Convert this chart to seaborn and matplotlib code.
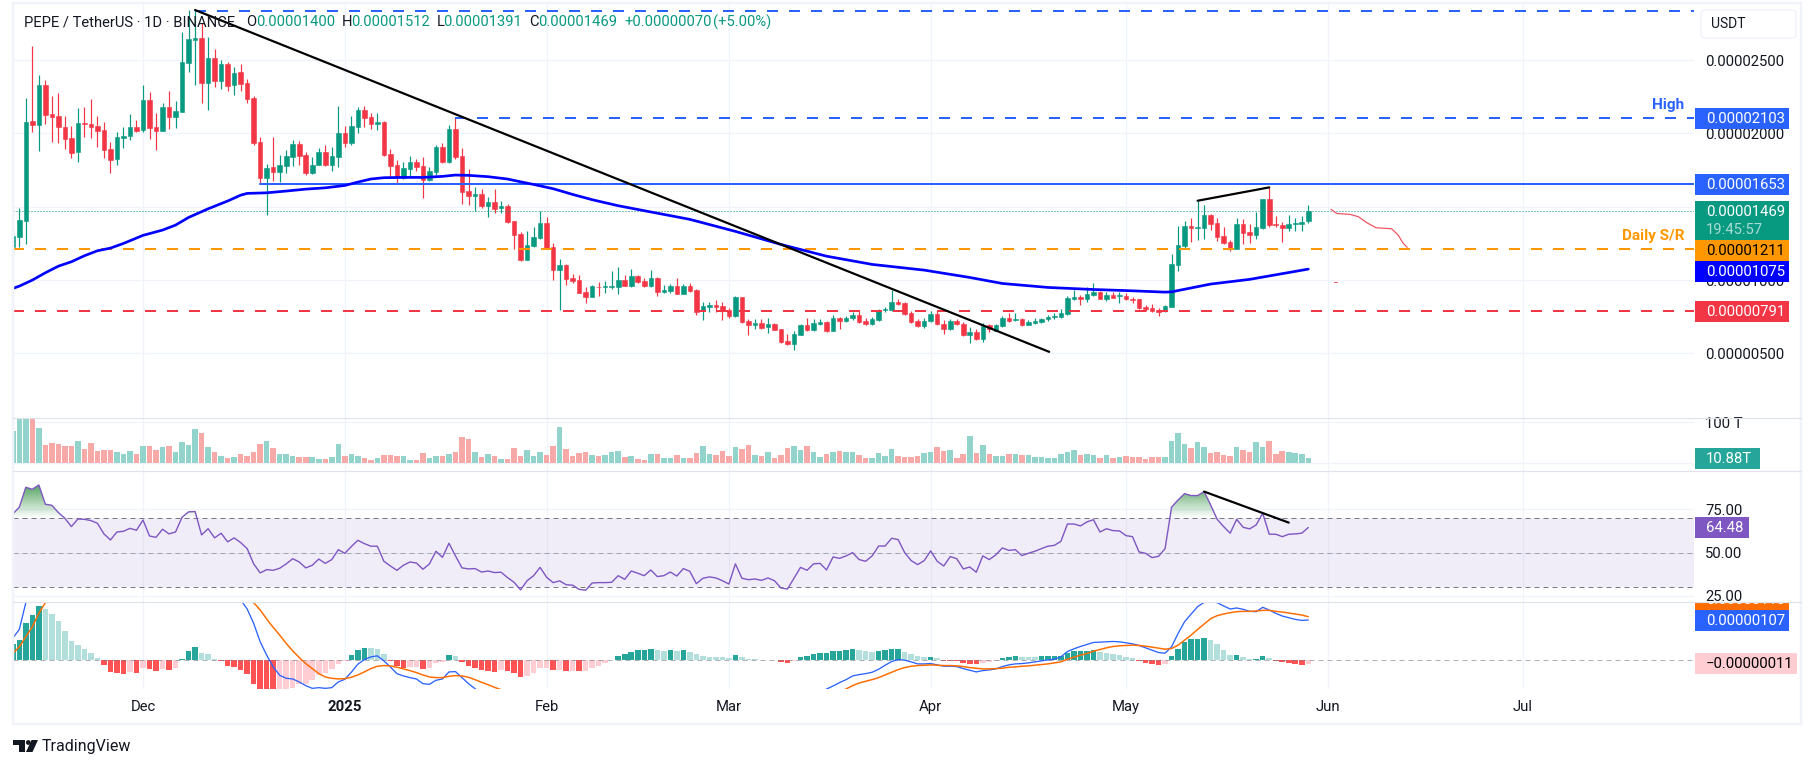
import matplotlib
matplotlib.use("Agg")
import matplotlib.pyplot as plt
import numpy as np
import pandas as pd
import seaborn as sns
from matplotlib.patches import Circle, FancyBboxPatch, Polygon, Rectangle
from matplotlib.path import Path

nan = float("nan")

# all prices are in 1e-8 USDT
opens = [1227,1295,1404,2082,2057,2329,2132,2118,2043,1968, 1873,2070,2064,2050,2023,1893,1825,1970,1984,2043,
         2020,2227,2043,2018,2179,2114,2148,2482,2639,2650, 2345,2514,2359,2473,2332,2418,2341,2241,1939,1695,
         1768,1736,1780,1841,1927,1852,1727,1782,1873,1784, 1841,2005,1934,2045,2159,2114,2066,2077,1859,1784,
         1695,1759,1804,1777,1679,1736,1907,1804,2029,1845, 1607,1575,1586,1504,1532,1491,1504,1402,1314,1139,
         1232,1286,1389,1223,1070,1102,1014,1000,916,886, 954,952,952,954,1004,959,1029,993,959,1014,
         918,927,959,907,959,932,786,818,829,823, 795,757,884,718,693,709,677,700,666,584,
         564,627,693,659,700,716,652,741,720,739, 761,720,700,727,793,795,850,845,777,718,
         686,718,768,704,664,723,704,627,648,598, 693,655,686,743,729,734,695,709,714,732,
         750,750,770,873,882,870,898,916,873,898, 891,895,873,868,814,807,793,786,818,1102,
         1232,1368,1354,1354,1443,1386,1300,1259,1214,1382, 1327,1307,1354,1552,1382,1373,1354,1382,1382,1400]
highs = [1345,1489,2241,2595,2398,2364,2254,2277,2118,2050, 2173,2182,2232,2118,2079,1943,2009,2041,2132,2091,
         2327,2282,2136,2204,2286,2223,2691,2841,2841,2750, 2659,2573,2500,2486,2454,2473,2368,2254,1973,1791,
         1977,1850,1886,1954,1948,1875,1841,1898,1920,1904, 2186,2050,2118,2177,2186,2136,2136,2086,1895,1818,
         1807,1845,1823,1836,1768,1923,1932,2057,2109,1898, 1754,1636,1618,1564,1618,1536,1518,1404,1330,1336,
         1364,1473,1427,1255,1141,1109,1045,1036,955,968, 988,995,1064,1091,1032,1077,1034,1011,1068,1018,
         966,973,1011,973,977,936,852,852,864,850, 807,895,886,732,732,736,739,709,670,636,
         650,700,739,736,732,720,759,750,755,784, 786,745,750,800,818,932,868,852,789,732,
         745,786,795,727,732,732,716,682,670,709, 704,704,755,777,773,739,727,745,739,761,
         773,800,891,932,898,954,982,923,918,918, 918,914,886,873,829,836,807,829,1177,1368,
         1400,1420,1541,1511,1450,1420,1359,1273,1420,1414, 1382,1464,1552,1636,1436,1398,1443,1420,1436,1512]
lows = [1182,1227,1245,2011,1882,2064,1943,1932,1895,1832, 1804,1973,1968,1909,1832,1732,1786,1898,1954,2009,
        2011,1959,1889,2018,2032,2036,2148,2420,2329,2209, 2161,2314,2304,2291,2264,2291,2209,1918,1659,1445,
        1673,1668,1727,1777,1782,1714,1723,1782,1777,1745, 1773,1909,1918,2004,2045,2027,2023,1845,1704,1659,
        1691,1704,1745,1559,1673,1718,1795,1800,1827,1518, 1511,1468,1489,1432,1454,1459,1391,1214,1132,1136,
        1223,1282,1209,1000,795,968,977,909,845,882, 891,914,936,904,959,954,982,954,954,891,
        909,914,904,902,918,761,727,784,784,727, 739,750,709,627,670,668,641,659,573,559,
        523,623,655,655,693,645,650,670,716,727, 709,693,693,723,784,791,829,761,709,682,
        673,714,693,636,659,693,618,573,591,577, 648,650,682,716,723,686,691,700,709,723,
        732,745,764,864,829,854,891,868,859,875, 845,864,845,804,791,782,755,782,814,1064,
        1216,1261,1273,1277,1341,1268,1245,1200,1209,1245, 1255,1282,1350,1359,1359,1261,1336,1336,1336,1391]
closes = [1300,1409,2077,2057,2329,2125,2111,2043,1964,1868, 2068,2066,2043,2018,1889,1818,1975,1984,2043,2016,
          2227,2039,2018,2179,2114,2152,2486,2643,2650,2345, 2514,2359,2473,2323,2409,2336,2236,1934,1698,1764,
          1736,1782,1845,1927,1845,1732,1782,1870,1784,1845, 2005,1934,2050,2159,2104,2064,2077,1852,1777,1700,
          1761,1804,1773,1682,1741,1907,1804,2029,1841,1602, 1573,1586,1504,1532,1486,1504,1398,1309,1139,1236,
          1291,1386,1216,1070,1100,1009,995,914,886,959, 950,959,959,1004,960,1027,986,959,1011,918,
          932,959,907,959,927,784,823,829,816,791, 757,886,714,693,709,673,700,661,577,564,
          632,693,659,709,716,652,741,720,745,761, 714,700,732,789,800,850,839,768,714,686,
          723,768,698,666,723,698,625,645,598,686, 670,693,743,723,734,693,716,723,732,750,
          757,775,877,882,870,904,918,873,898,880, 898,868,864,807,800,789,782,823,1107,1236,
          1368,1354,1364,1443,1382,1295,1255,1214,1382,1323, 1307,1359,1552,1377,1373,1354,1382,1391,1395,1469]

# volume in trillions, the first bars run off the top of the pane
volumes = [78.5,150,150,130,86,43.8,48.8,46.3,41.3,41.3, 53.7,33.9,48.8,29,31.4,31.4,26.4,21.5,29,21.5,
           41.3,41.3,31.4,38.8,41.3,26.4,51,43.8,83.5,73.6, 38.8,26.4,16.5,11.6,14,21.5,16.5,26.4,46.3,53.7,
           36.4,21.5,21.5,16.5,14,14,14,9,9,14, 46.3,16.5,21.5,16.5,11.6,6.6,11.6,19,19,16.5,
           16.5,6.6,6.6,24,11.6,16.5,16.5,21.5,26.4,63.6, 58.7,26.4,14,21.5,16.5,9,9,36.4,16.5,31.4,
           16.5,26.4,19,41.3,88.4,33.9,16.5,24,26.4,19, 16.5,19,26.4,29,14,16.5,9,6.6,21.5,21.5,
           11.6,11.6,19,11.6,11.6,24,41.3,21.5,19,29, 16.5,38.8,33.9,43.8,19,16.5,26.4,11.6,19,36.4,
           41.3,31.4,41.3,26.4,14,21.5,26.4,29,26.4,26.4, 19,11.6,11.6,24,16.5,33.9,16.5,14,14,16.5,
           24,26.4,38.8,29,31.4,11.6,21.5,66,24,43.8, 21.5,16.5,16.5,21.5,21.5,19,19,14,14,11.6,
           11.6,21.5,26.4,31.4,19,21.5,19,11.6,19,11.6, 14,16.5,14,14,9,14,14,14,53.7,73.6,
           46.3,36.4,51,38.8,24,26.4,19,16.5,38.8,31.4, 26.4,51,38.8,53.7,21.5,29,26.4,24,21.5,10.88]

rsi = [72.3,76.2,87.7,86.5,89.0,77.9,77.3,73.1,69.8,65.0, 69.4,69.2,68.5,66.9,60.8,57.3,61.9,62.3,64.0,62.9,
       68.8,59.6,58.8,63.5,60.8,61.9,70.4,73.5,73.7,60.2, 63.8,58.5,61.2,56.2,58.5,55.8,52.3,43.5,38.3,40.2,
       39.8,41.0,43.5,46.5,44.6,41.2,42.7,46.3,43.8,46.0, 51.7,49.6,53.5,57.1,55.2,53.7,53.7,45.0,42.3,39.8,
       42.7,44.6,44.0,40.4,43.5,50.8,47.3,55.4,48.1,41.2, 40.6,40.8,38.8,39.4,38.5,38.7,35.6,32.9,28.5,33.8,
       36.7,41.5,35.8,32.7,33.7,31.5,31.2,28.8,28.3,32.5, 32.7,32.7,32.9,36.7,34.6,39.4,38.1,36.7,40.0,36.2,
       36.7,38.8,36.5,40.8,39.2,32.1,35.2,36.0,35.4,33.8, 31.9,43.5,35.2,34.4,34.8,34.0,35.4,33.8,29.6,29.0,
       35.2,41.5,39.8,43.5,43.8,40.0,47.5,46.7,48.1,50.0, 46.0,45.0,48.1,53.8,53.8,58.3,57.5,50.0,45.4,43.1,
       45.4,51.0,45.0,42.3,47.7,46.5,40.6,41.7,38.7,48.1, 46.0,48.7,52.7,51.3,51.7,48.3,49.6,50.8,52.3,53.7,
       54.2,56.5,66.5,66.5,65.4,67.7,69.0,61.9,63.8,62.7, 62.5,59.8,59.2,50.4,49.6,47.1,47.9,52.3,76.2,80.4,
       84.0,82.9,82.9,85.2,77.5,69.2,65.0,61.2,69.2,64.6, 63.7,66.0,72.7,60.6,60.6,59.2,60.6,60.8,61.2,64.48]

# macd panel, in chart units of about 0.9e-8 USDT. nan where the line is off the pane
macd_hist = [46,58,109,133,160,151,136,115,85,55, 43,32,20,6,-16,-38,-41,-42,-38,-39,
             -26,-29,-35,-29,-30,-26,1,27,37,20, 17,1,-5,-20,-23,-32,-44,-74,-100,-115,
             -120,-110,-95,-85,-73,-72,-62,-47,-41,-28, -14,-4,14,28,34,33,32,16,-5,-20,
             -26,-23,-22,-29,-26,-11,-8,13,12,-8, -20,-26,-32,-35,-36,-32,-35,-41,-53,-50,
             -41,-26,-25,-32,-31,-35,-34,-35,-34,-26, -20,-11,-2,10,16,22,28,29,31,28,
             26,28,26,28,23,16,10,9,8,7, 4,13,7,2,1,-2,-1,-2,-8,-11,
             -4,8,11,17,20,21,26,26.5,28,31, 28,25,23,26,29,31,31.5,24,17,11,
             8,9,4,-4,-4.5,-5,-11,-12,-14,-10, -6,-3,5,8,11,8,7.5,7,11,11.5,
             11.8,12,20,26,26.5,27,27.5,22,20,17, 13,8,5,-3,-10,-13,-16,-13,10,31,
             52,61,61.5,64,58,46,28,13,14,7, 2,2.5,11,5,-3,-8,-11,-14,-16,-13]
macd_line = [64,90,170,260] + [nan] * 30 + [225,178,151,108,53,13,
             -22,-47,-56,-58,-67,-78,-86,-84,-86,-84, -67,-59,-38,-14,0,8,11,-4,-22,-42,
             -49,-54,-58,-72,-74,-62,-58,-37,-36,-54, -72,-87,-105] + [nan] * 51 + [-100,-88,
             -79,-69,-60,-49,-45,-42,-38,-29,-17,-6, 0,-2,-7,-13,-13,-12,-16,-20,-20,-21,
             -27,-32,-37,-33,-31,-28,-21,-16,-13,-12, -10,-7,-4,-1,1,8,24,32,39,45,
             51,52,53,54,53,50,47,42,35,28, 21,19,38,78,113,136,158,171,173,170,
             160,151,154,150,144,143,156,148,138,130, 125,120,117,118]
macd_signal = [18,38,68,98,138,170,220] + [nan] * 29 + [200,170,148,121,96,73,
               48,26,6,-12,-27,-42,-52,-56,-58,-57, -53,-46,-37,-27,-20,-18,-19,-23,-28,-33,
               -39,-46,-52,-54,-54,-50,-48,-49,-53,-60, -68,-75,-83,-90,-100] + [nan] * 50 + [-96,-88,
               -78,-70,-65,-60,-54,-46,-38,-30,-24,-20, -18,-17,-16,-17,-18,-18,-19,-21,-24,-26,
               -28,-28,-27,-26,-23,-22,-20,-19,-17,-15, -13,-10,-7,1,7,13,18,25,30,35,
               39,41,42,43,42,40,37,34,31,33, 43,58,73,90,106,122,131,136,140,143,
               144,144,145,147,147,144,142,139,136,133, 128]

# 200 day ema, read at these candle numbers
ema_days = [0,1,3,5,7,9,11,13,15,17,20,23,25,27,30,33,35,36,39,42,45,48,51,53,55,57,60,63,66,68,70,73,76,78,80,
            83,86,89,93,97,104,111,118,125,132,140,147,152,159,166,172,177,178,184,190,199]
ema_vals = [943,959,1000,1050,1095,1125,1166,1200,1218,1250,1305,1341,1375,1427,1486,1539,1579,1591,1595,1607,
            1620,1629,1645,1668,1689,1698,1700,1700,1707,1716,1714,1705,1689,1670,1652,1623,1584,1548,1507,
            1473,1414,1332,1243,1163,1107,1068,1018,977,950,936,927,918,920,973,1005,1075]

# hand drawn trend lines and the sketched path
trend_days = [28, 159.2]
trend_vals = [2841, 511]
top_days = [182, 193]
top_vals = [1541, 1632]
rsi_div_days = [183, 196]
rsi_div_vals = [85.2, 67.3]
path_days = [202.5,203.4,205.4,206.7,208,209.4,211.8,212.8,213.6,214.2]
path_vals = [1482,1454,1448,1432,1391,1357,1350,1307,1250,1223]

price_ticks = [500, 1000, 1500, 2000, 2500]
month_starts = ["2024-12-01", "2025-01-01", "2025-02-01", "2025-03-01", "2025-04-01", "2025-05-01", "2025-06-01", "2025-07-01"]
month_labels = ["Dec", "2025", "Feb", "Mar", "Apr", "May", "Jun", "Jul"]
first_day = pd.Timestamp("2024-11-11")

GREEN = "#089981"
RED = "#f23645"
BLUE = "#2962ff"
ORANGE = "#ff9800"
GRID = "#f0f3fa"
TEXT = "#131722"
FONT = 10.7
PX = 0.72  # one pixel in points at dpi 100

sns.set_theme(style="white")
plt.rcParams["font.family"] = ["Roboto", "DejaVu Sans"]

W, H = 1814, 768
fig = plt.figure(figsize=(W / 100, H / 100), dpi=100, facecolor="white")


def pane(top, bottom):
    ax = fig.add_axes([13 / W, 1 - bottom / H, (1694 - 13) / W, (bottom - top) / H])
    ax.set_facecolor("none")
    for s in ax.spines.values():
        s.set_visible(False)
    ax.set_axisbelow(True)
    ax.yaxis.tick_right()
    ax.tick_params(axis="y", length=0, pad=8, labelsize=FONT, labelcolor=TEXT)
    ax.tick_params(axis="x", length=0, labelbottom=False)
    ax.set_xticks(month_pos)
    ax.grid(True, color=GRID, lw=1.3 * PX)
    return ax


days = np.arange(len(closes))
month_pos = [(pd.Timestamp(m) - first_day).days for m in month_starts]
o, h, l, c = map(np.array, (opens, highs, lows, closes))
up = c >= o

ax_price = pane(4, 418.3)
ax_vol = pane(418.3, 471.3)
ax_rsi = pane(471.3, 602.3)
ax_macd = pane(602.3, 689)

# price pane
ax_price.vlines(days, l, h, colors=np.where(up, GREEN, RED), lw=1.2 * PX, zorder=2)
ax_price.bar(days, np.abs(c - o), bottom=np.minimum(o, c), width=0.7, color=np.where(up, GREEN, RED),
             edgecolor=np.where(up, GREEN, RED), lw=0.4, zorder=3)
dash = (0, (5.5, 5.5))
ax_price.plot([28, 259], [2836, 2836], color=BLUE, lw=2 * PX, ls=dash, zorder=4)
ax_price.plot([68, 259], [2103, 2103], color=BLUE, lw=2 * PX, ls=dash, zorder=4)
ax_price.plot([38, 259], [1653, 1653], color=BLUE, lw=2 * PX, zorder=4)
ax_price.axhline(1469, color=GREEN, lw=1 * PX, ls=(0, (1, 2)), zorder=4)
ax_price.axhline(1211, color=ORANGE, lw=2 * PX, ls=dash, zorder=4)
ax_price.axhline(791, color=RED, lw=2 * PX, ls=dash, zorder=4)
sns.lineplot(x=ema_days, y=ema_vals, ax=ax_price, color="#0000ff", lw=2.7 * PX, zorder=5)
sns.lineplot(x=trend_days, y=trend_vals, ax=ax_price, color="black", lw=2.2 * PX, zorder=6)
sns.lineplot(x=top_days, y=top_vals, ax=ax_price, color="black", lw=2.2 * PX, zorder=6)
sns.lineplot(x=path_days, y=path_vals, ax=ax_price, color="#f0505e", lw=1.2 * PX, zorder=6)
ax_price.plot([203, 203.4], [984, 984], color="#f0505e", lw=1 * PX, zorder=6)
ax_price.set_ylim(58, 2882)
ax_price.set_yticks(price_ticks)
ax_price.set_yticklabels([f"{v * 1e-8:.8f}" for v in price_ticks])

# volume pane
ax_vol.bar(days, volumes, width=0.85, color=np.where(up, "#92d3cb", "#f7a9a7"), lw=0)
ax_vol.set_ylim(-21.5, 110)
ax_vol.set_yticks([0, 100])
ax_vol.set_yticklabels(["", "100 T"])

# rsi pane
rsi_arr = np.array(rsi)
ax_rsi.axhspan(30, 70, color="#7e57c2", alpha=0.1, lw=0)
for level, alpha in [(70, 1), (50, 0.6), (30, 1)]:
    ax_rsi.axhline(level, color="#787b86", lw=1 * PX, ls=(0, (5, 4)), alpha=alpha)
shade = ax_rsi.fill_between(days, 70, rsi_arr, where=rsi_arr > 70, interpolate=True, alpha=0)
ramp = np.zeros((64, 1, 4))
ramp[..., 0], ramp[..., 1], ramp[..., 2] = 0.18, 0.56, 0.24
ramp[:, 0, 3] = np.linspace(0.0, 0.85, 64)
im = ax_rsi.imshow(ramp, extent=[0, 258, 70, 90], origin="lower", aspect="auto", zorder=2)
im.set_clip_path(Path.make_compound_path(*shade.get_paths()), transform=ax_rsi.transData)
sns.lineplot(x=days, y=rsi_arr, ax=ax_rsi, color="#7e57c2", lw=1.4 * PX, zorder=3)
sns.lineplot(x=rsi_div_days, y=rsi_div_vals, ax=ax_rsi, color="black", lw=2.2 * PX, zorder=4)
ax_rsi.set_ylim(21.35, 96.9)
ax_rsi.set_yticks([25, 50, 75])
ax_rsi.set_yticklabels(["25.00", "50.00", "75.00"])

# macd pane
hist_colors = []
for i, v in enumerate(macd_hist):
    prev = macd_hist[i - 1] if i else v
    if v >= 0:
        hist_colors.append("#26a69a" if v >= prev else "#b2dfdb")
    else:
        hist_colors.append("#ff5252" if v < prev else "#ffcdd2")
ax_macd.bar(days, macd_hist, width=0.85, color=hist_colors, lw=0, zorder=2)
ax_macd.axhline(0, color="#787b86", lw=1 * PX, ls=(0, (5, 4)), alpha=0.6, zorder=3)
sns.lineplot(x=days, y=macd_line, ax=ax_macd, color=BLUE, lw=1.3 * PX, zorder=4)
sns.lineplot(x=days, y=macd_signal, ax=ax_macd, color="#ff6d00", lw=1.5 * PX, zorder=5)
ax_macd.set_ylim(-88, 171)
ax_macd.set_yticks([])
ax_macd.tick_params(axis="x", labelbottom=True, pad=8, labelsize=FONT, labelcolor=TEXT)
ax_macd.set_xticklabels(month_labels)
ax_macd.get_xticklabels()[1].set_fontweight("bold")

for ax in (ax_price, ax_vol, ax_rsi, ax_macd):
    ax.set_xlim(0.03, 258.25)
    ax.set_xlabel("")
    ax.set_ylabel("")

# everything around the panes goes on a pixel overlay
top = fig.add_axes([0, 0, 1, 1], zorder=10)
top.set_xlim(0, W)
top.set_ylim(H, 0)
top.axis("off")
top.add_patch(Rectangle((12.5, 3), 1788.5, 721, fill=False, ec=GRID, lw=2.5 * PX))
for y in (418.3, 471.3, 602.3):
    top.plot([13, 1801], [y, y], color="#e0e3eb", lw=1.2 * PX)


def label(x, y, s, color=TEXT, size=FONT, ha="left", **kw):
    return top.text(x, y, s, color=color, fontsize=size, ha=ha, va="center", **kw)


def badge(y0, y1, s, bg, fg="white", right=1789):
    top.add_patch(Rectangle((1695, y0), right - 1695, y1 - y0, color=bg, lw=0))
    if s:
        label(1705.7, (y0 + y1) / 2 + 0.5, s, fg)


# header
label(23.7, 22.5, "PEPE / TetherUS · 1D · BINANCE", size=10.6)
for x, s in [(246, "O"), (341.5, "H"), (436.8, "L"), (529.6, "C")]:
    label(x, 22.5, s, size=10.6)
for x, s in [(256, "0.00001400"), (351, "0.00001512"), (443.5, "0.00001391"), (538, "0.00001469"),
             (624, "+0.00000070"), (712.5, "(+5.00%)")]:
    label(x, 22.5, s, GREEN, size=10.6)

# price axis
top.add_patch(FancyBboxPatch((1701, 10), 95, 28, boxstyle="round,pad=0,rounding_size=4", fc="white", ec=GRID,
                             lw=1.5 * PX))
label(1710.7, 23.7, "USDT", size=10)
label(1684, 105, "High", BLUE, ha="right", size=11, fontweight="bold")
label(1685, 236, "Daily S/R", ORANGE, ha="right", size=11, fontweight="bold")
badge(108.3, 128.7, "0.00002103", BLUE)
badge(174, 195, "0.00001653", BLUE)
badge(201, 240, "", GREEN)
label(1705.7, 212, "0.00001469", "white")
label(1705.7, 229.5, "19:45:57", "#a9dcd3")
badge(240, 261, "0.00001211", ORANGE, "black")
badge(261, 282, "0.00001075", "#0000ff")
badge(301, 322, "0.00000791", RED)

# lower panes
badge(448, 469, "10.88T", "#26a69a", right=1760)
badge(517, 538, "64.48", "#7e57c2", right=1749)
badge(603, 610, "", "#ff6d00")
signal_text = label(1705.7, 600.5, "0.00000118", "white", clip_on=True)
signal_text.set_clip_path(Rectangle((1695, 603), 94, 7, transform=top.transData))
badge(610, 631, "0.00000107", BLUE)
badge(653, 674, "−0.00000011", "#ffcdd2", "black", right=1797)

# TradingView logo
top.add_patch(Polygon([(13, 740), (25, 740), (25, 752), (19, 752), (19, 745), (13, 745)], color=TEXT, lw=0))
top.add_patch(Circle((28.3, 742.5), 2.4, color=TEXT, lw=0))
top.add_patch(Polygon([(31.5, 740), (38, 740), (32.5, 752), (26, 752)], color=TEXT, lw=0))
label(42, 746.5, "TradingView", size=11.5)

fig.savefig("out.png", dpi=100)
